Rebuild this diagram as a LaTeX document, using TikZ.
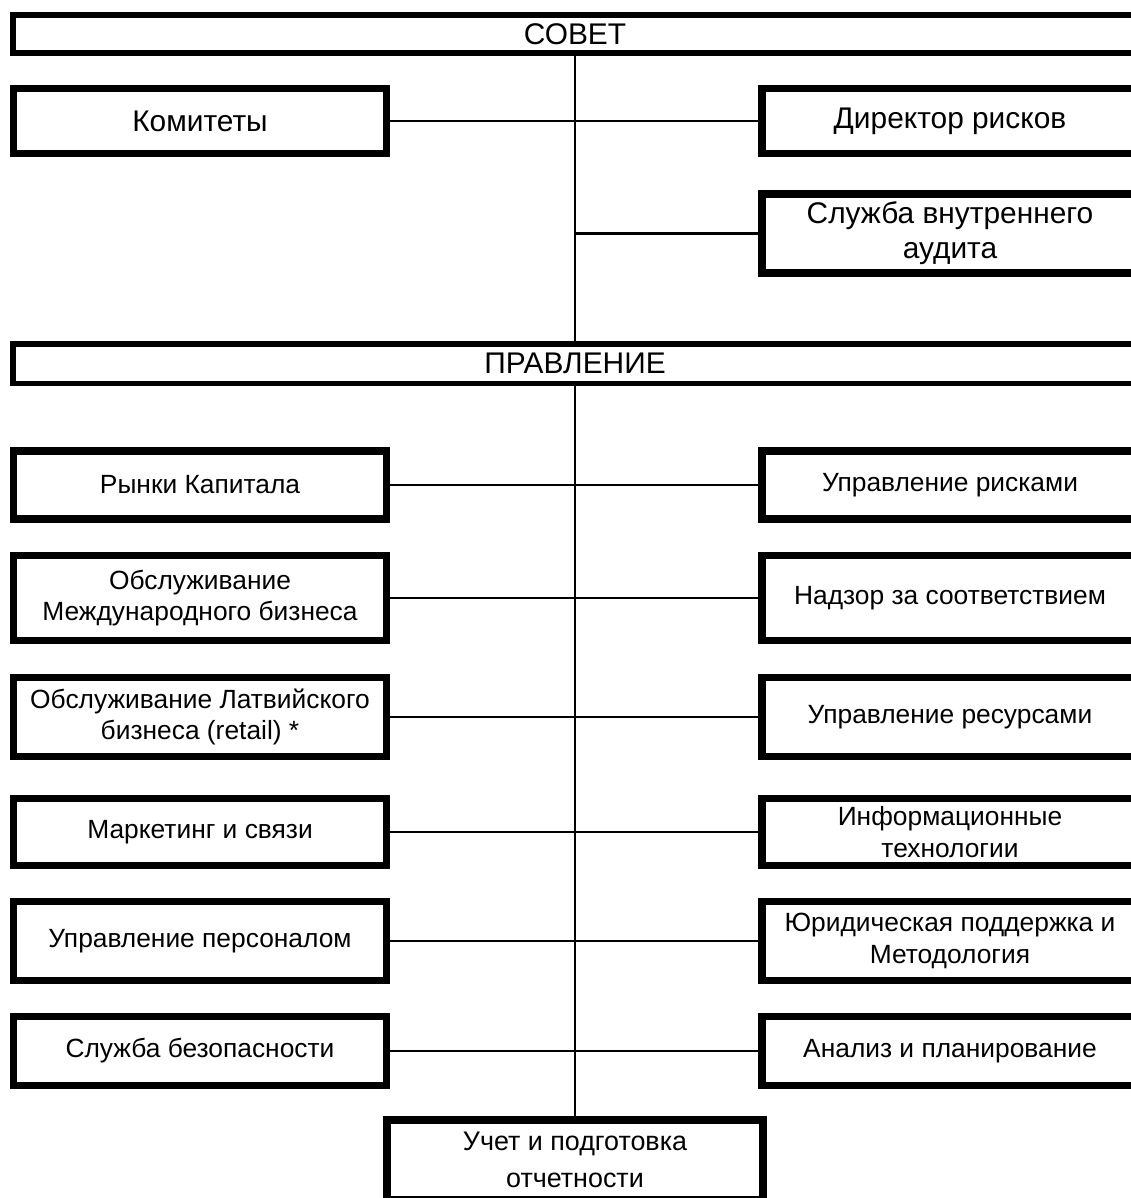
\documentclass[tikz,border=0pt]{standalone}
\usepackage{fontspec}
\setmainfont{Liberation Sans}
\tikzstyle{unit}=[draw,fill=white,rectangle,line width=4.2pt,align=center,inner sep=0pt]
\tikzstyle{lunit}=[unit,minimum width=7.47cm]
\tikzstyle{runit}=[unit,minimum width=7.52cm]
\tikzstyle{bar}=[draw,fill=white,rectangle,line width=3.4pt,minimum width=22.48cm,inner sep=0pt]
\tikzstyle{conn}=[draw,line width=1.4pt]
\tikzstyle{big}=[font=\fontsize{17}{20}\selectfont]
\tikzstyle{every node}=[font=\fontsize{15}{18}\selectfont]

\begin{document}
\begin{tikzpicture}[x=0.02cm,y=-0.02cm]
  \useasboundingbox (0,0) rectangle (1131,1198);
  \clip (0,0) rectangle (1131,1198);
  \node[bar, big, minimum height=0.76cm] (sovet) at (575,34) {СОВЕТ};
  \node[lunit, big, minimum height=1.31cm] (komitety) at (200,121) {Комитеты};
  \node[runit, big, minimum height=1.31cm] (direktor) at (950,121) {Директор рисков};
  \node[runit, big, minimum height=1.58cm] (audit) at (950,233.5) {Служба внутреннего\\аудита};
  \node[bar, big, minimum height=0.8cm] (pravlenie) at (575,363.5) {ПРАВЛЕНИЕ};

  \node[lunit, minimum height=1.36cm] (rynki) at (200,485) {Рынки Капитала};
  \node[runit, minimum height=1.36cm] (riski) at (950,485) {Управление рисками};
  \node[lunit, minimum height=1.69cm] (mezhd) at (200,598) {Обслуживание\\Международного бизнеса};
  \node[runit, minimum height=1.69cm] (nadzor) at (950,598) {Надзор за соответствием};
  \node[lunit, minimum height=1.58cm] (latv) at (200,717) {Обслуживание Латвийского\\бизнеса (retail) *};
  \node[runit, minimum height=1.58cm] (resursy) at (950,717) {Управление ресурсами};
  \node[lunit, minimum height=1.35cm] (marketing) at (200,832) {Маркетинг и связи};
  \node[runit, minimum height=1.35cm] (it) at (950,832) {Информационные\\технологии};
  \node[lunit, minimum height=1.57cm] (personal) at (200,941) {Управление персоналом};
  \node[runit, minimum height=1.57cm] (jurist) at (950,941) {Юридическая поддержка и\\Методология};
  \node[lunit, minimum height=1.37cm] (bezop) at (200,1051) {Служба безопасности};
  \node[runit, minimum height=1.37cm] (analiz) at (950,1051) {Анализ и планирование};
  \node[runit, font=\fontsize{15.3}{21}\selectfont, minimum height=1.6cm] (uchet) at (575,1160) {Учет и подготовка\\отчетности};

  \draw[conn] (sovet) -- (pravlenie);
  \draw[conn] (pravlenie) -- (uchet);
  \draw[conn] (komitety) -- (direktor);
  \draw[conn] (audit.west -| sovet) -- (audit.west);
  \draw[conn] (rynki) -- (riski);
  \draw[conn] (mezhd) -- (nadzor);
  \draw[conn] (latv) -- (resursy);
  \draw[conn] (marketing) -- (it);
  \draw[conn] (personal) -- (jurist);
  \draw[conn] (bezop) -- (analiz);
\end{tikzpicture}
\end{document}
